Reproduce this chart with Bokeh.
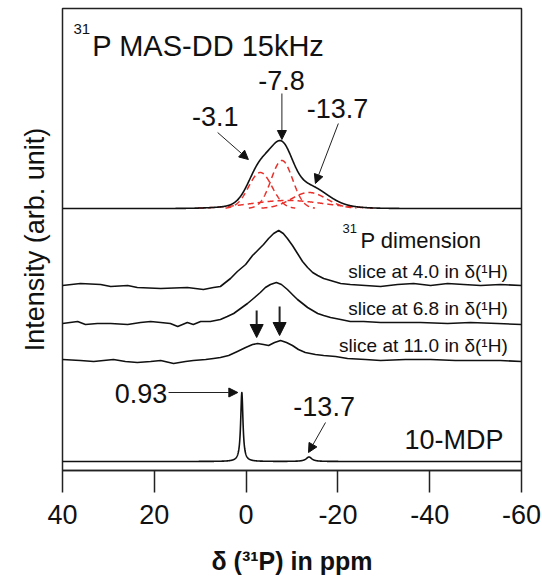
import numpy as np
from bokeh.plotting import figure
from bokeh.models import Range1d, FixedTicker, Label, Arrow, NormalHead
from bokeh.embed import file_html
from bokeh.resources import INLINE

FONT = "Liberation Sans"

# --- 31P MAS-DD spectrum: deconvolution components (Gaussian) ---
top_centers = [-3.1, -7.8, -13.7, -9.0]
top_heights = [36.0, 48.0, 16.0, 8.0]
top_fwhm = [6.0, 5.5, 9.0, 18.8]

# --- 10-MDP reference spectrum (Lorentzian lines) ---
mdp_centers = [0.93, -13.7]
mdp_heights = [69.0, 4.5]
mdp_fwhm = [0.6, 1.5]

# --- 31P slices of the 2D spectrum, taken at several 1H shifts ---
slice40_ppm = [40.0, 36.1, 31.7, 29.5, 25.8, 23.7, 18.6, 12.8, 9.3, 7.1, 5.6, 3.4, 1.9, 0.1,
               -1.4, -2.5, -3.8, -4.9, -6.0, -7.1, -8.1, -9.0, -10.1, -11.2, -12.3, -13.4,
               -14.5, -15.6, -16.9, -18.4, -20.6, -22.7, -26.0, -29.3, -33.0, -36.5, -40.2,
               -43.9, -47.4, -51.1, -55.4, -60.0]
slice40_int = [0, 2, 1, -1, 0, -2, -3, -2, -4, -2, -1, 7, 14, 21, 30, 35, 41, 47, 52, 55,
               52, 47, 40, 32, 24, 18, 13, 10, 7, 5, 2, 1, 0, -1, 1, 2, 0, 2, 1, 0, 1, 0]

slice68_ppm = [40.0, 36.7, 35.0, 32.4, 29.5, 25.8, 23.0, 20.8, 18.6, 16.5, 14.9, 12.8, 11.5,
               9.9, 7.8, 5.6, 4.1, 2.7, 1.2, -0.3, -1.6, -3.1, -4.2, -5.3, -6.6, -7.7, -9.0,
               -10.3, -11.2, -12.3, -13.4, -14.5, -15.6, -16.9, -18.4, -20.6, -22.7, -25.6,
               -29.3, -33.0, -38.0, -43.9, -48.9, -54.8, -60.0]
slice68_int = [0, 2, -1, 0, 0, -1, 1, 2, 1, 0, -3, 1, -1, 2, 2, 4, 7, 10, 15, 20, 25, 31, 36,
               39, 41, 39, 34, 28, 24, 20, 16, 13, 10, 8, 6, 4, 2, 2, 1, 1, 1, 0, 1, 0, -1]

slice110_ppm = [40.0, 36.1, 33.2, 28.9, 26.3, 23.7, 20.8, 18.6, 15.8, 13.2, 11.5, 8.8, 7.1,
                5.6, 3.8, 1.9, 0.1, -1.4, -2.5, -3.8, -4.9, -6.2, -7.5, -8.8, -10.1, -11.4,
                -12.9, -15.1, -16.9, -19.5, -22.1, -26.0, -29.3, -34.7, -40.2, -45.6, -51.1,
                -55.4, -60.0]
slice110_int = [1, 0, -1, 1, -1, -2, -1, 0, -3, -1, 0, 1, 2, 3, 5, 9, 13, 16, 17, 16, 15, 18,
                20, 18, 15, 11, 8, 6, 5, 4, 2, 1, 0, 1, 1, 0, 0, 0, -1]

# vertical stacking offsets of the traces (top to bottom)
offset_top = 262
offset_slice40 = 185
offset_slice68 = 147
offset_slice110 = 110
offset_mdp = 9

x_ticks = [40, 20, 0, -20, -40, -60]
x_tick_labels = ["40", "20", "0", "-20", "-40", "-60"]


def gauss(x, c, h, w):
    return h * np.exp(-4.0 * np.log(2.0) * (x - c) ** 2 / w ** 2)


def lorentz(x, c, h, w):
    hw = w / 2.0
    return h * hw ** 2 / ((x - c) ** 2 + hw ** 2)


ppm = np.union1d(np.linspace(-60, 40, 2001), np.array(top_centers + mdp_centers))[::-1]

comps = [gauss(ppm, c, h, w) for c, h, w in zip(top_centers, top_heights, top_fwhm)]
top_sum = np.sum(comps, axis=0)
mdp = np.sum([lorentz(ppm, c, h, w) for c, h, w in zip(mdp_centers, mdp_heights, mdp_fwhm)],
             axis=0)

p = figure(width=542, height=577, x_range=Range1d(40, -60), y_range=Range1d(0, 462),
           output_backend="svg", toolbar_location=None,
           min_border_left=62, min_border_right=21, min_border_top=8, min_border_bottom=107)
p.xgrid.visible = False
p.ygrid.visible = False
p.outline_line_color = "#222222"
p.outline_line_width = 1.5
p.background_fill_color = "white"
p.border_fill_color = "white"

ax = p.xaxis[0]
ax.ticker = FixedTicker(ticks=x_ticks)
ax.major_label_overrides = {t: s for t, s in zip(x_ticks, x_tick_labels)}
ax.major_tick_out = 22
ax.major_tick_in = 0
ax.major_tick_line_width = 1.5
ax.major_tick_line_color = "#222222"
ax.minor_tick_line_color = None
ax.axis_line_width = 1.5
ax.axis_line_color = "#222222"
ax.major_label_standoff = 12
ax.major_label_text_font = FONT
ax.major_label_text_font_size = "27px"
ax.major_label_text_color = "#111111"
ax.axis_label = "δ (³¹P) in ppm"
ax.axis_label_text_font = FONT
ax.axis_label_text_font_size = "25px"
ax.axis_label_text_font_style = "bold"
ax.axis_label_text_color = "#111111"
ax.axis_label_standoff = 20

ay = p.yaxis[0]
ay.ticker = FixedTicker(ticks=[])
ay.major_tick_line_color = None
ay.minor_tick_line_color = None
ay.axis_line_color = None
ay.major_label_text_font_size = "0px"
ay.axis_label = "Intensity (arb. unit)"
ay.axis_label_text_font = FONT
ay.axis_label_text_font_size = "27px"
ay.axis_label_text_font_style = "normal"
ay.axis_label_text_color = "#111111"
ay.axis_label_standoff = 13

# deconvolution components (red dashed)
for comp in comps:
    mask = comp > 0.4
    p.line(ppm[mask], offset_top + comp[mask], line_color="#e8302a", line_width=1.5,
           line_dash="6 4")

line_kw = dict(line_color="#111111", line_width=1.6, line_join="round")
p.line(ppm, offset_top + top_sum, **line_kw)
p.line(slice40_ppm, [offset_slice40 + v for v in slice40_int], **line_kw)
p.line(slice68_ppm, [offset_slice68 + v for v in slice68_int], **line_kw)
p.line(slice110_ppm, [offset_slice110 + v for v in slice110_int], **line_kw)
p.line(ppm, offset_mdp + mdp, **line_kw)


def label(x, y, text, size, align="left", baseline="alphabetic", **kw):
    # lift the text so that its alphabetic baseline sits at y
    p.add_layout(Label(x=x, y=y + 0.33 * size, text=text, text_font=FONT,
                       text_font_size=f"{size}px", text_align=align, text_baseline=baseline,
                       text_color="#111111", **kw))


def arrow(x0, y0, x1, y1, size=9, width=1.0):
    p.add_layout(Arrow(x_start=x0, y_start=y0, x_end=x1, y_end=y1, line_width=width,
                       line_color="#222222",
                       end=NormalHead(size=size, fill_color="#111111", line_color="#111111",
                                      line_width=1)))


label(37.6, 437, "31", 15)
label(33.5, 415, "P MAS-DD 15kHz", 29)
label(6.7, 345, "-3.1", 27, align="center")
label(-7.7, 381, "-7.8", 27, align="center")
label(-19.9, 353, "-13.7", 27, align="center")
arrow(6.2, 338, -0.5, 311)
arrow(-7.8, 377, -7.8, 331)
arrow(-20.1, 347, -15.1, 287)

label(-21.0, 238, "31", 13)
label(-24.9, 223, "P dimension", 22)
label(-57.0, 193, "slice at 4.0 in δ(¹H)", 19, align="right")
label(-57.0, 156, "slice at 6.8 in δ(¹H)", 19, align="right")
label(-57.0, 119, "slice at 11.0 in δ(¹H)", 19, align="right")
arrow(-2.3, 160, -2.3, 133, size=13, width=2)
arrow(-7.3, 164, -7.3, 135, size=13, width=2)

label(22.9, 68, "0.93", 27, align="center")
arrow(16.9, 78, 1.8, 78)
label(-17.0, 55, "-13.7", 27, align="center")
arrow(-17.3, 48, -13.6, 18)
label(-56.1, 22, "10-MDP", 27, align="right")

open("out.html", "w").write(file_html(p, INLINE))
